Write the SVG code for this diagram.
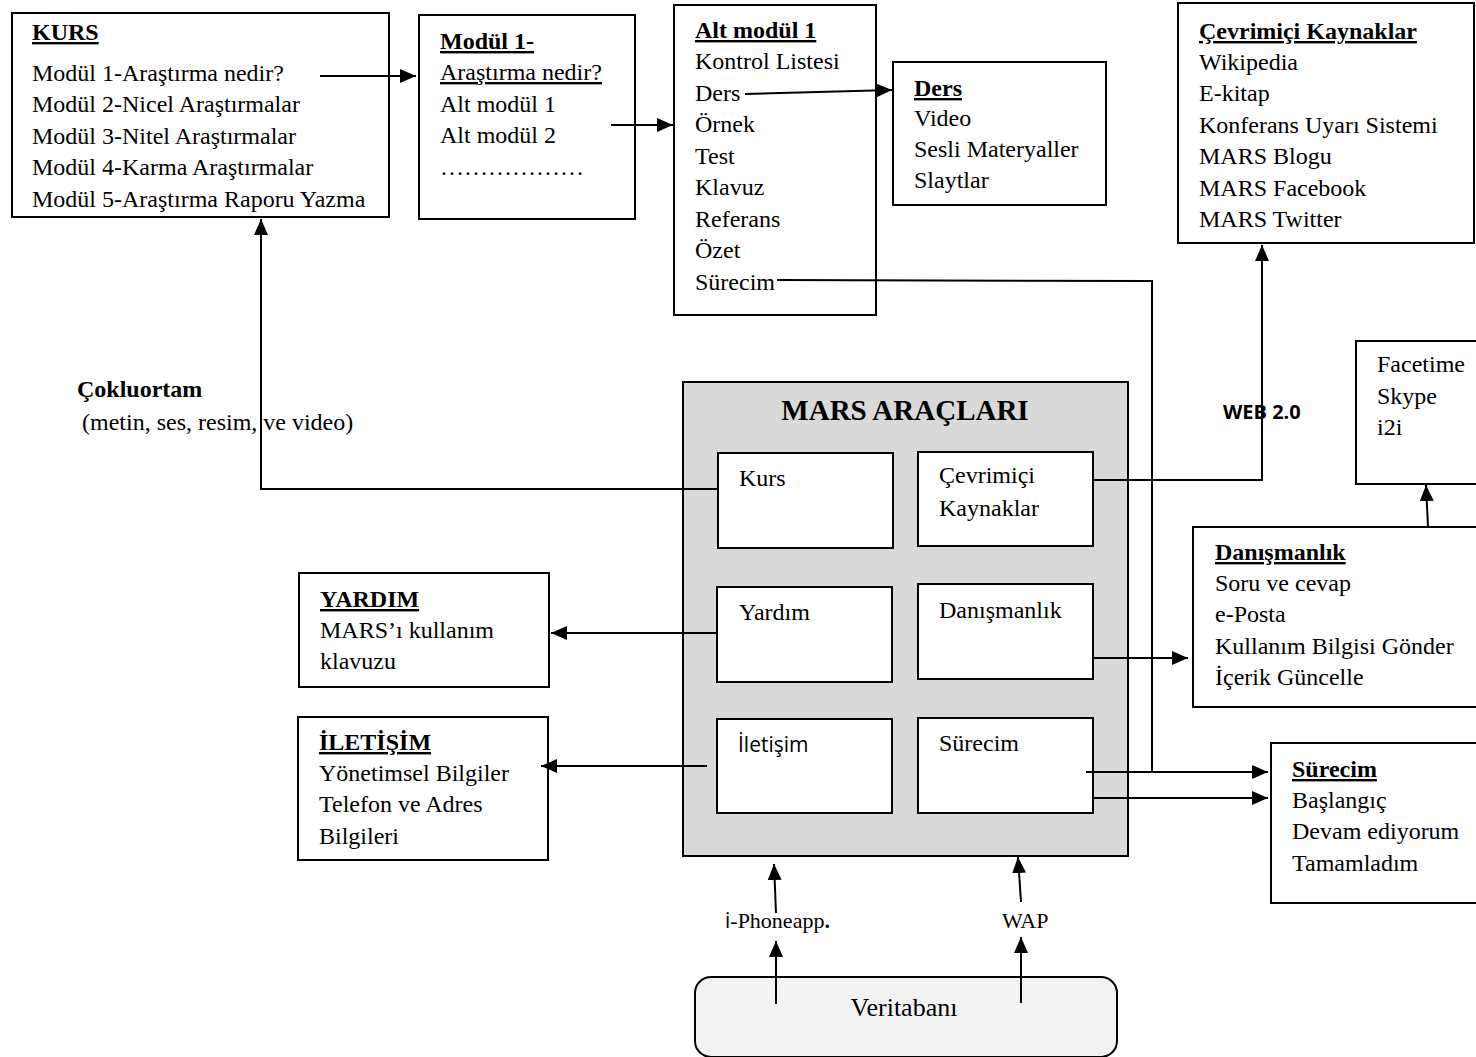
<svg xmlns="http://www.w3.org/2000/svg" width="1476" height="1057" viewBox="0 0 1476 1057">
  <style>
    .box { fill: #ffffff; stroke: #000000; stroke-width: 2; }
    .panel { fill: #d9d9d9; stroke: #000000; stroke-width: 2; }
    .db { fill: #f2f2f2; stroke: #000000; stroke-width: 2; }
    text { font-family: "Liberation Serif", "Times New Roman", serif; font-size: 24px; fill: #000000; }
    .h { font-weight: bold; text-decoration: underline; }
    .u { text-decoration: underline; }
    .b { font-weight: bold; }
    .sans { font-family: "Open Sans", "Liberation Sans", sans-serif; }
    .small { font-size: 22px; }
    .wire { fill: none; stroke: #000000; stroke-width: 2; }
    .arrow { fill: none; stroke: #000000; stroke-width: 2; marker-end: url(#head); }
  </style>
  <defs>
    <marker id="head" markerUnits="userSpaceOnUse" markerWidth="17" markerHeight="16" refX="16" refY="7" orient="auto">
      <path d="M0,0 L16,7 L0,14 Z" fill="#000000"/>
    </marker>
  </defs>

  <rect width="1476" height="1057" fill="#ffffff"/>

  <!-- course outline -->
  <g id="kurs">
    <rect class="box" x="12" y="13" width="377" height="204"/>
    <text x="32" y="40" class="h">KURS</text>
    <text x="32" y="81">Modül 1-Araştırma nedir?</text>
    <text x="32" y="112">Modül 2-Nicel Araştırmalar</text>
    <text x="32" y="144">Modül 3-Nitel Araştırmalar</text>
    <text x="32" y="175">Modül 4-Karma Araştırmalar</text>
    <text x="32" y="207">Modül 5-Araştırma Raporu Yazma</text>
  </g>

  <g id="modul1">
    <rect class="box" x="419" y="15" width="216" height="204"/>
    <text x="440" y="49" class="h">Modül 1-</text>
    <text x="440" y="80" class="u">Araştırma nedir?</text>
    <text x="440" y="112">Alt modül 1</text>
    <text x="440" y="143">Alt modül 2</text>
    <text x="440" y="175">………………</text>
  </g>

  <g id="altmodul1">
    <rect class="box" x="674" y="5" width="202" height="310"/>
    <text x="695" y="38" class="h">Alt modül 1</text>
    <text x="695" y="69">Kontrol Listesi</text>
    <text x="695" y="101">Ders</text>
    <text x="695" y="132">Örnek</text>
    <text x="695" y="164">Test</text>
    <text x="695" y="195">Klavuz</text>
    <text x="695" y="227">Referans</text>
    <text x="695" y="258">Özet</text>
    <text x="695" y="290">Sürecim</text>
  </g>

  <g id="ders">
    <rect class="box" x="893" y="62" width="213" height="143"/>
    <text x="914" y="96" class="h">Ders</text>
    <text x="914" y="126">Video</text>
    <text x="914" y="157">Sesli Materyaller</text>
    <text x="914" y="188">Slaytlar</text>
  </g>

  <g id="cevrimici-kaynaklar">
    <rect class="box" x="1178" y="3" width="296" height="240"/>
    <text x="1199" y="39" class="h">Çevrimiçi Kaynaklar</text>
    <text x="1199" y="70">Wikipedia</text>
    <text x="1199" y="101">E-kitap</text>
    <text x="1199" y="133">Konferans Uyarı Sistemi</text>
    <text x="1199" y="164">MARS Blogu</text>
    <text x="1199" y="196">MARS Facebook</text>
    <text x="1199" y="227">MARS Twitter</text>
  </g>

  <g id="iletisim-araclari">
    <rect class="box" x="1356" y="341" width="122" height="143"/>
    <text x="1377" y="372">Facetime</text>
    <text x="1377" y="404">Skype</text>
    <text x="1377" y="435">i2i</text>
  </g>

  <g id="danismanlik">
    <rect class="box" x="1193" y="527" width="285" height="180"/>
    <text x="1215" y="560" class="h">Danışmanlık</text>
    <text x="1215" y="591">Soru ve cevap</text>
    <text x="1215" y="622">e-Posta</text>
    <text x="1215" y="654">Kullanım Bilgisi Gönder</text>
    <text x="1215" y="685">İçerik Güncelle</text>
  </g>

  <g id="surecim">
    <rect class="box" x="1271" y="743" width="207" height="160"/>
    <text x="1292" y="777" class="h">Sürecim</text>
    <text x="1292" y="808">Başlangıç</text>
    <text x="1292" y="839">Devam ediyorum</text>
    <text x="1292" y="871">Tamamladım</text>
  </g>

  <g id="yardim">
    <rect class="box" x="299" y="573" width="250" height="114"/>
    <text x="320" y="607" class="h">YARDIM</text>
    <text x="320" y="638">MARS’ı kullanım</text>
    <text x="320" y="669">klavuzu</text>
  </g>

  <g id="iletisim">
    <rect class="box" x="298" y="717" width="250" height="143"/>
    <text x="319" y="750" class="h">İLETİŞİM</text>
    <text x="319" y="781">Yönetimsel Bilgiler</text>
    <text x="319" y="812">Telefon ve Adres</text>
    <text x="319" y="844">Bilgileri</text>
  </g>

  <!-- central tool panel -->
  <g id="mars-araclari">
    <rect class="panel" x="683" y="382" width="445" height="474"/>
    <text x="905" y="420" class="b" style="font-size:29px" text-anchor="middle">MARS ARAÇLARI</text>
    <g id="arac-kurs">
      <rect class="box" x="718" y="453" width="175" height="95"/>
      <text x="739" y="486">Kurs</text>
    </g>
    <g id="arac-cevrimici">
      <rect class="box" x="918" y="452" width="175" height="94"/>
      <text x="939" y="483">Çevrimiçi</text>
      <text x="939" y="516">Kaynaklar</text>
    </g>
    <g id="arac-yardim">
      <rect class="box" x="717" y="587" width="175" height="95"/>
      <text x="739" y="620">Yardım</text>
    </g>
    <g id="arac-danismanlik">
      <rect class="box" x="918" y="584" width="175" height="95"/>
      <text x="939" y="618">Danışmanlık</text>
    </g>
    <g id="arac-iletisim">
      <rect class="box" x="717" y="719" width="175" height="94"/>
      <text x="738" y="752" class="sans" style="font-size:21px">İletişim</text>
    </g>
    <g id="arac-surecim">
      <rect class="box" x="918" y="718" width="175" height="95"/>
      <text x="939" y="751">Sürecim</text>
    </g>
  </g>

  <g id="veritabani">
    <rect class="db" x="695" y="977" width="422" height="80" rx="16" ry="16"/>
    <text x="904" y="1016" text-anchor="middle" style="font-size:26px">Veritabanı</text>
  </g>

  <!-- free labels -->
  <g id="labels">
    <text x="77" y="397" class="b">Çokluortam</text>
    <text x="82" y="430"> (metin, ses, resim, ve video)</text>
    <text x="1223" y="419" class="sans b" style="font-size:20px">WEB 2.0</text>
    <text x="725" y="928" class="small"><tspan class="sans" style="font-size:21px">i</tspan>-Phoneapp<tspan class="b">.</tspan></text>
    <text x="1002" y="928" class="small">WAP</text>
  </g>

  <!-- connectors -->
  <g id="connectors">
    <line class="arrow" x1="320" y1="76" x2="416" y2="76"/>
    <line class="arrow" x1="611" y1="125" x2="673" y2="125"/>
    <line class="arrow" x1="745" y1="94" x2="892" y2="90"/>
    <!-- Sürecim item routed down to the progress box -->
    <polyline class="wire" points="777,280 1152,281 1152,772"/>
    <line class="arrow" x1="1086" y1="772" x2="1268" y2="772"/>
    <line class="arrow" x1="1093" y1="798" x2="1268" y2="798"/>
    <!-- Kurs tool back to course outline -->
    <polyline class="arrow" points="718,489 261,489 261,219"/>
    <!-- online resources via WEB 2.0 -->
    <polyline class="arrow" points="1093,480 1262,480 1262,245"/>
    <line class="arrow" x1="1093" y1="658" x2="1188" y2="658"/>
    <line class="arrow" x1="1428" y1="527" x2="1426" y2="485"/>
    <line class="arrow" x1="717" y1="633" x2="551" y2="633"/>
    <line class="arrow" x1="707" y1="766" x2="541" y2="766"/>
    <!-- database access paths -->
    <line class="arrow" x1="776" y1="913" x2="774" y2="864"/>
    <line class="arrow" x1="776" y1="1004" x2="776" y2="941"/>
    <line class="arrow" x1="1021" y1="902" x2="1018" y2="857"/>
    <line class="arrow" x1="1021" y1="1003" x2="1021" y2="937"/>
  </g>
</svg>
